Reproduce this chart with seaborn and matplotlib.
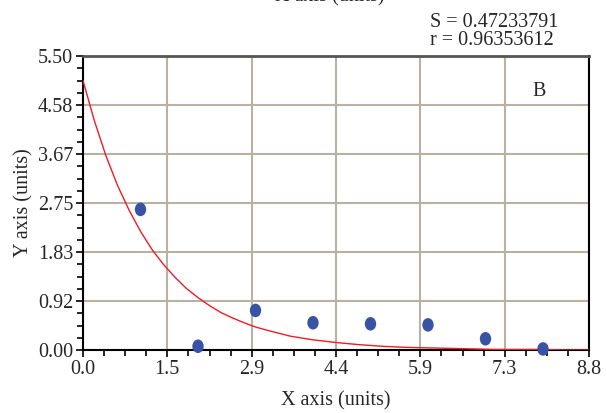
import numpy as np
import pandas as pd
import matplotlib.pyplot as plt
import seaborn as sns
from matplotlib.path import Path
from matplotlib.transforms import Affine2D
from matplotlib.ticker import AutoMinorLocator

# du lieu doc tu hinh
x_points = [1, 2, 3, 4, 5, 6, 7, 8]
y_points = [2.63, 0.07, 0.74, 0.51, 0.49, 0.47, 0.21, 0.02]

# duong cong fit (doc tung diem tren hinh)
curve_x = [0.0, 0.2, 0.4, 0.6, 0.8, 1.0, 1.2, 1.4, 1.6, 1.8, 2.0, 2.2, 2.4, 2.6, 2.8, 3.0,
           3.2, 3.6, 4.0, 4.4, 4.8, 5.2, 5.6, 6.0, 6.4, 6.8, 7.2, 7.6, 8.0, 8.4, 8.8]
curve_y = [5.04, 4.28, 3.63, 3.08, 2.62, 2.22, 1.88, 1.60, 1.36, 1.15, 0.98, 0.83, 0.70, 0.60, 0.51, 0.43,
           0.37, 0.26, 0.19, 0.14, 0.10, 0.07, 0.05, 0.04, 0.03, 0.02, 0.01, 0.01, 0.01, 0.00, 0.00]

x_tick_labels = ["0.0", "1.5", "2.9", "4.4", "5.9", "7.3", "8.8"]
y_tick_labels = ["0.00", "0.92", "1.83", "2.75", "3.67", "4.58", "5.50"]
x_max = 8.8
y_max = 5.5

stats_text = "S = 0.47233791\nr = 0.96353612"
panel_label = "B"

sns.set_theme(style="whitegrid")
plt.rcParams['font.family'] = ['Liberation Serif', 'DejaVu Serif']

fs = 14.5

fig = plt.figure(figsize=(6.07, 4.13), dpi=100)
ax = fig.add_axes([83 / 607, 1 - 350 / 413, 506 / 607, 294 / 413])
ax.set_facecolor("white")

pts = pd.DataFrame({"x": x_points, "y": y_points})
curve = pd.DataFrame({"x": curve_x, "y": curve_y})

# marker hinh elip (cao hon rong)
ellipse = Path.unit_circle().transformed(Affine2D().scale(0.84, 1.0))

sns.lineplot(data=curve, x="x", y="y", ax=ax, color="#ee1c25", linewidth=1.0,
             zorder=3, clip_on=True)
sns.scatterplot(data=pts, x="x", y="y", ax=ax, marker=ellipse, s=95,
                color="#3953a4", edgecolor="none", zorder=4, clip_on=False)

ax.set_xlim(0, x_max)
ax.set_ylim(0, y_max)
ax.set_xticks(np.linspace(0, x_max, len(x_tick_labels)))
ax.set_xticklabels(x_tick_labels)
ax.set_yticks(np.linspace(0, y_max, len(y_tick_labels)))
ax.set_yticklabels(y_tick_labels)
ax.xaxis.set_minor_locator(AutoMinorLocator(4))
ax.yaxis.set_minor_locator(AutoMinorLocator(4))

ax.grid(True, which="major", color="#b8b2a6", linewidth=1.5)
ax.grid(False, which="minor")
ax.tick_params(which="major", direction="out", length=5, width=1.2, color="black",
               labelsize=fs, pad=2, bottom=True, left=True)
ax.tick_params(which="minor", direction="out", length=4, width=1.2, color="black",
               bottom=True, left=True)

for side in ["left", "bottom", "right"]:
    ax.spines[side].set_color("black")
    ax.spines[side].set_linewidth(1.5)
ax.spines["top"].set_color("#555555")
ax.spines["top"].set_linewidth(2)

ax.set_xlabel("X axis (units)", fontsize=fs, labelpad=9)
ax.set_ylabel("Y axis (units)", fontsize=fs, labelpad=3)

ax.text(0.901, 0.878, panel_label, transform=ax.transAxes, fontsize=fs,
        ha="center", va="center")
fig.text(430 / 607, 1 - 13 / 413, stats_text, fontsize=fs, ha="left", va="top",
         linespacing=0.92)
# tieu de bi cat o tren cung
fig.text(330 / 607, 1 - 1 / 413, "X axis (units)", fontsize=fs, ha="center", va="baseline")

fig.savefig("out.png", dpi=100)
